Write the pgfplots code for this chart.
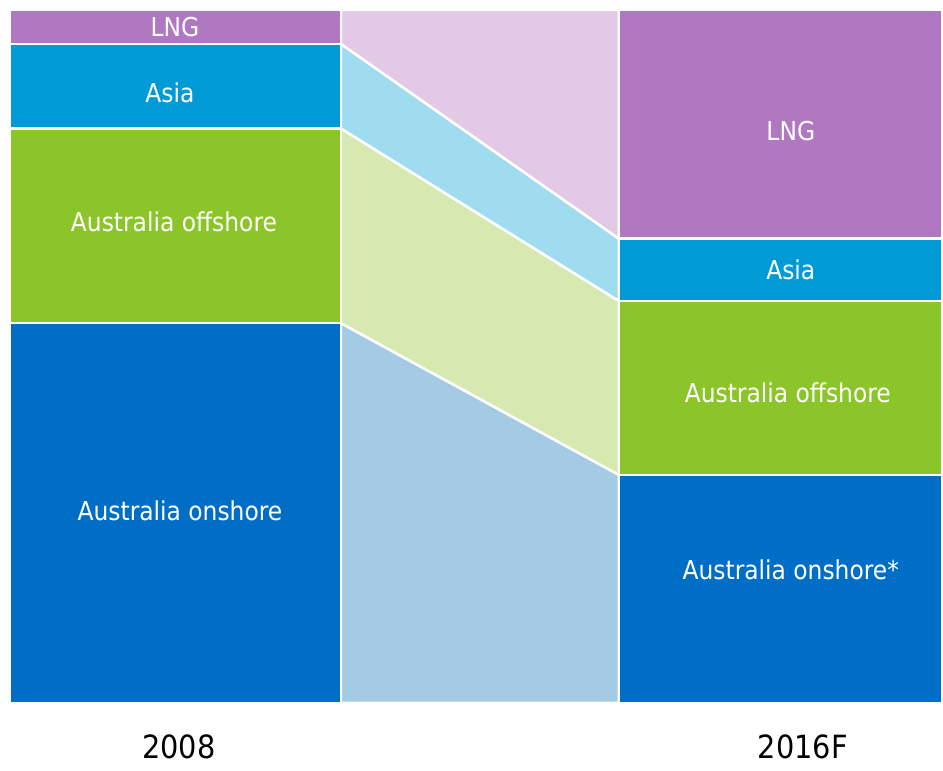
\documentclass[border=0pt]{standalone}
\usepackage{fontspec}
\setmainfont{DejaVu Sans Condensed}
\usepackage{pgfplots}
\pgfplotsset{compat=1.18}

\definecolor{lngc}{RGB}{177,120,194}
\definecolor{asiac}{RGB}{0,155,214}
\definecolor{offc}{RGB}{139,197,41}
\definecolor{onc}{RGB}{0,110,199}
\definecolor{lngl}{RGB}{226,202,231}
\definecolor{asial}{RGB}{160,220,240}
\definecolor{offl}{RGB}{213,233,177}
\definecolor{onl}{RGB}{165,202,227}

\tikzset{lbl/.style={font=\fontsize{7.8}{9}\selectfont, text=white}}

\begin{document}
\begin{tikzpicture}
\begin{axis}[
    scale only axis,
    width=282.9pt,
    height=228.9pt,
    xmin=0, xmax=943,
    ymin=-8.66, ymax=101.44,
    hide axis,
    clip=false,
    every axis plot/.append style={draw=white, line width=0.75pt},
]
\path (rel axis cs:0,0) rectangle (rel axis cs:1,1);

% cumulative shares: 2008 = 54.8 / 82.9 / 95.1 / 100 ; 2016F = 32.9 / 58.0 / 67.0 / 100
% middle connecting bands
\addplot[fill=onl] coordinates {(341,0) (619,0) (619,32.9) (341,54.8)} -- cycle;
\addplot[fill=offl] coordinates {(341,54.8) (619,32.9) (619,58.0) (341,82.9)} -- cycle;
\addplot[fill=asial] coordinates {(341,82.9) (619,58.0) (619,67.0) (341,95.1)} -- cycle;
\addplot[fill=lngl] coordinates {(341,95.1) (619,67.0) (619,100) (341,100)} -- cycle;

% 2008 bar
\addplot[fill=onc] coordinates {(10,0) (341,0) (341,54.8) (10,54.8)} -- cycle;
\addplot[fill=offc] coordinates {(10,54.8) (341,54.8) (341,82.9) (10,82.9)} -- cycle;
\addplot[fill=asiac] coordinates {(10,82.9) (341,82.9) (341,95.1) (10,95.1)} -- cycle;
\addplot[fill=lngc] coordinates {(10,95.1) (341,95.1) (341,100) (10,100)} -- cycle;

% 2016F bar
\addplot[fill=onc] coordinates {(619,0) (942,0) (942,32.9) (619,32.9)} -- cycle;
\addplot[fill=offc] coordinates {(619,32.9) (942,32.9) (942,58.0) (619,58.0)} -- cycle;
\addplot[fill=asiac] coordinates {(619,58.0) (942,58.0) (942,67.0) (619,67.0)} -- cycle;
\addplot[fill=lngc] coordinates {(619,67.0) (942,67.0) (942,100) (619,100)} -- cycle;

\node[lbl] at (axis cs:175,97.5) {LNG};
\node[lbl] at (axis cs:170,88.0) {Asia};
\node[lbl] at (axis cs:174,69.4) {Australia offshore};
\node[lbl] at (axis cs:180,27.7) {Australia onshore};

\node[lbl] at (axis cs:791,82.5) {LNG};
\node[lbl] at (axis cs:791,62.5) {Asia};
\node[lbl] at (axis cs:788,44.7) {Australia offshore};
\node[lbl] at (axis cs:791,19.2) {Australia onshore*};

\node[font=\fontsize{9.6}{12}\selectfont] at (axis cs:179,-6.35) {2008};
\node[font=\fontsize{9.6}{12}\selectfont] at (axis cs:803,-6.35) {2016F};
\end{axis}
\end{tikzpicture}
\end{document}
